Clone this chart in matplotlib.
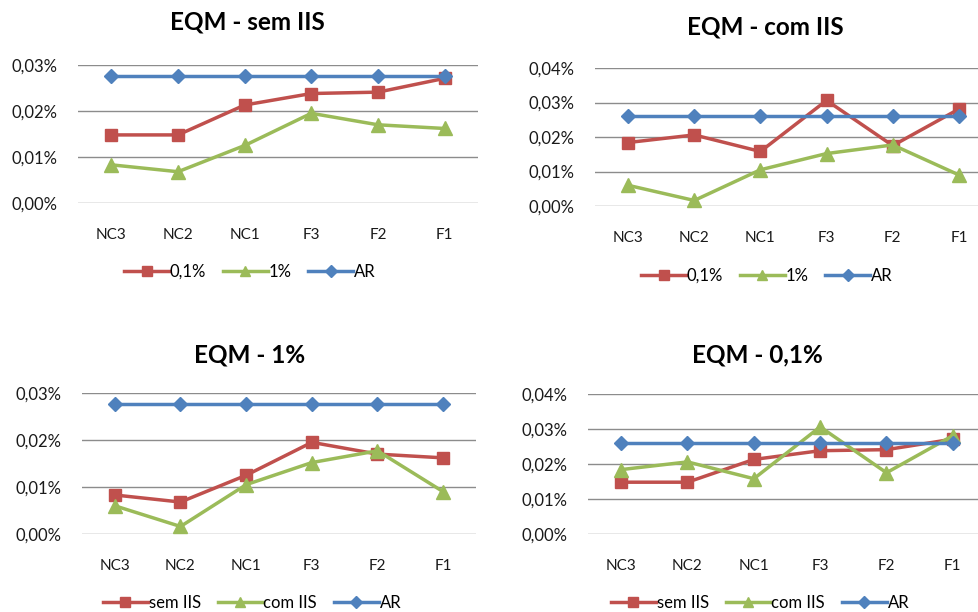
import matplotlib
matplotlib.use('Agg')
import matplotlib.pyplot as plt
from matplotlib.ticker import FuncFormatter

# categories and values (in %)
categories = ['NC3', 'NC2', 'NC1', 'F3', 'F2', 'F1']

sem_iis_01 = [0.0148, 0.0148, 0.0213, 0.0238, 0.0241, 0.0271]
sem_iis_1 = [0.0083, 0.0068, 0.0125, 0.0195, 0.0170, 0.0162]
com_iis_01 = [0.0184, 0.0206, 0.0158, 0.0306, 0.0175, 0.0281]
com_iis_1 = [0.0060, 0.0016, 0.0105, 0.0152, 0.0177, 0.0090]
ar_sem = [0.0277] * 6
ar_com = [0.0261] * 6

RED = '#C0504D'
GREEN = '#9BBB59'
BLUE = '#4F81BD'

plt.rcParams['font.family'] = ['Lato', 'DejaVu Sans']

W, H = 979, 612
fig = plt.figure(figsize=(W / 100, H / 100), dpi=100)


def px_axes(left, right, top, bottom):
    return fig.add_axes([left / W, 1 - bottom / H, (right - left) / W, (bottom - top) / H])


pct = FuncFormatter(lambda v, p: ('%.2f%%' % v).replace('.', ','))


def panel(box, ymax, series, labels, title, title_xy, leg_xy):
    ax = px_axes(*box)
    ax.plot(categories, series[0], color=RED, marker='s', markersize=9, lw=2.5, label=labels[0])
    ax.plot(categories, series[1], color=GREEN, marker='^', markersize=10, lw=2.5, label=labels[1])
    ax.plot(categories, series[2], color=BLUE, marker='D', markersize=7.5, lw=2.5, label=labels[2])
    ax.set_xlim(-0.5, 5.5)
    ax.set_ylim(0, ymax)
    ax.set_yticks([i * 0.01 for i in range(int(round(ymax / 0.01)) + 1)])
    ax.yaxis.set_major_formatter(pct)
    ax.grid(axis='y', color='#8c8c8c', lw=1)
    ax.set_axisbelow(True)
    for s in ax.spines.values():
        s.set_visible(False)
    ax.tick_params(length=0, colors='#1a1a1a')
    ax.tick_params(axis='y', pad=15, labelsize=12)
    ax.tick_params(axis='x', pad=18, labelsize=11)
    for line in ax.lines:
        line.set_clip_on(False)
    fig.text(title_xy[0] / W, 1 - title_xy[1] / H, title, ha='center', va='center',
             fontsize=17.5, fontweight='bold')
    fig.legend(handles=ax.lines, loc='center', bbox_to_anchor=(leg_xy[0] / W, 1 - leg_xy[1] / H),
               ncol=3, frameon=False, fontsize=12, handlelength=2.7, handletextpad=0.05,
               columnspacing=1.0, markerscale=0.75)
    return ax


panel((78, 478, 65, 203), 0.03, [sem_iis_01, sem_iis_1, ar_sem], ['0,1%', '1%', 'AR'],
      'EQM - sem IIS', (247, 22), (250, 272))
panel((595, 992, 68, 206), 0.04, [com_iis_01, com_iis_1, ar_com], ['0,1%', '1%', 'AR'],
      'EQM - com IIS', (765, 27), (767, 276))
panel((82, 476, 393, 534), 0.03, [sem_iis_1, com_iis_1, ar_sem], ['sem IIS', 'com IIS', 'AR'],
      'EQM - 1%', (250, 355), (252, 603))
panel((588, 986, 394, 534), 0.04, [sem_iis_01, com_iis_01, ar_com], ['sem IIS', 'com IIS', 'AR'],
      'EQM - 0,1%', (757, 355), (760, 603))

fig.savefig('out.png', dpi=100)
